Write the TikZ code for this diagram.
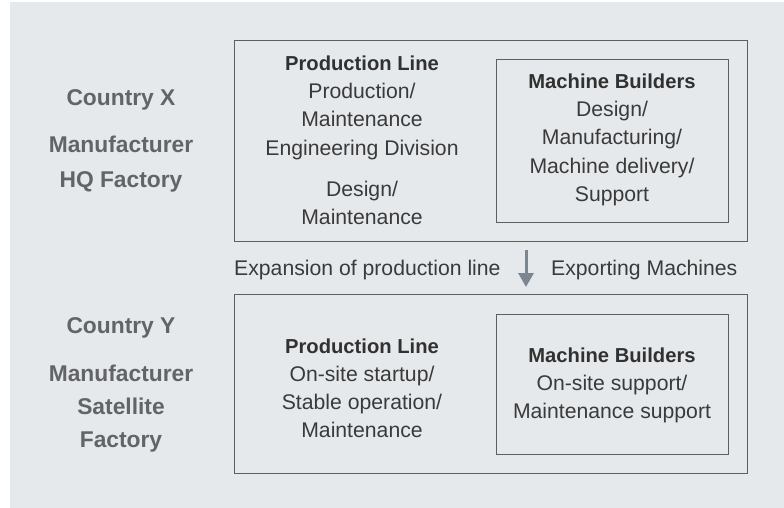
\documentclass[tikz,border=0pt]{standalone}
\usepackage{fontspec}
\setmainfont{Liberation Sans}
\usetikzlibrary{arrows.meta}
\definecolor{bgc}{HTML}{E6E9EC}
\definecolor{linec}{HTML}{5E5E5E}
\definecolor{txtc}{HTML}{3A3A3A}
\definecolor{labc}{HTML}{626466}
\definecolor{arrc}{HTML}{7B8690}
\tikzset{
  box/.style={draw=linec, line width=1.3pt, anchor=north west, inner sep=0pt},
  lab/.style={anchor=base, inner sep=0pt, text=labc, font=\fontsize{22.8}{26}\selectfont\bfseries},
  head/.style={anchor=base, inner sep=0pt, text=txtc!85!black, font=\fontsize{20.2}{24}\selectfont\bfseries},
  body/.style={anchor=base, inner sep=0pt, text=txtc, font=\fontsize{21.2}{25}\selectfont},
  arr/.style={draw=arrc, line width=3pt, -{Triangle[width=15pt,length=14pt]}}
}
\begin{document}
\begin{tikzpicture}[x=1pt,y=-1pt]
\fill[white] (0,0) rectangle (784,508);
\useasboundingbox (0,0) rectangle (784,508);
\fill[bgc] (10,2) rectangle (784,508);

% boxes
\node[box, minimum width=513pt, minimum height=201pt] (hq) at (234,40) {};
\node[box, minimum width=232pt, minimum height=163pt] (mb1) at (496,59) {};
\node[box, minimum width=513pt, minimum height=179pt] (sat) at (234,294) {};
\node[box, minimum width=232pt, minimum height=140pt] (mb2) at (496,314) {};

% arrow
\coordinate (ax) at (526,0);
\draw[arr, shorten <=8pt, shorten >=7pt] (hq.south -| ax) -- (sat.north -| ax);

% left labels, country X
\node[lab] (cx1) at (121,106) {Country X};
\node[lab] (cx2) at (121,153) {Manufacturer};
\node[lab] (cx3) at (121,187) {HQ Factory};

% left labels, country Y
\node[lab] (cy1) at (121,333) {Country Y};
\node[lab] (cy2) at (121,381) {Manufacturer};
\node[lab] (cy3) at (121,414) {Satellite};
\node[lab] (cy4) at (121,447) {Factory};

% HQ production line
\node[head] (pa0) at (362,71) {Production Line};
\node[body] (pa1) at (362,99) {Production/};
\node[body] (pa2) at (362,127) {Maintenance};
\node[body] (pa3) at (362,155) {Engineering Division};
\node[body] (pa4) at (362,196) {Design/};
\node[body] (pa5) at (362,224) {Maintenance};

% HQ machine builders
\node[head] (ma0) at (612,89) {Machine Builders};
\node[body] (ma1) at (612,117) {Design/};
\node[body] (ma2) at (612,145) {Manufacturing/};
\node[body] (ma3) at (612,173) {Machine delivery/};
\node[body] (ma4) at (612,201) {Support};

% middle labels
\node[body, anchor=base west] (exp) at (234,275) {Expansion of production line};
\node[body, anchor=base west] (exm) at (551,275) {Exporting Machines};

% satellite production line
\node[head] (pb0) at (362,353) {Production Line};
\node[body] (pb1) at (362,381) {On-site startup/};
\node[body] (pb2) at (362,409) {Stable operation/};
\node[body] (pb3) at (362,437) {Maintenance};

% satellite machine builders
\node[head] (mb0) at (612,362) {Machine Builders};
\node[body] (mbb1) at (612,390) {On-site support/};
\node[body] (mbb2) at (612,418) {Maintenance support};
\end{tikzpicture}
\end{document}
